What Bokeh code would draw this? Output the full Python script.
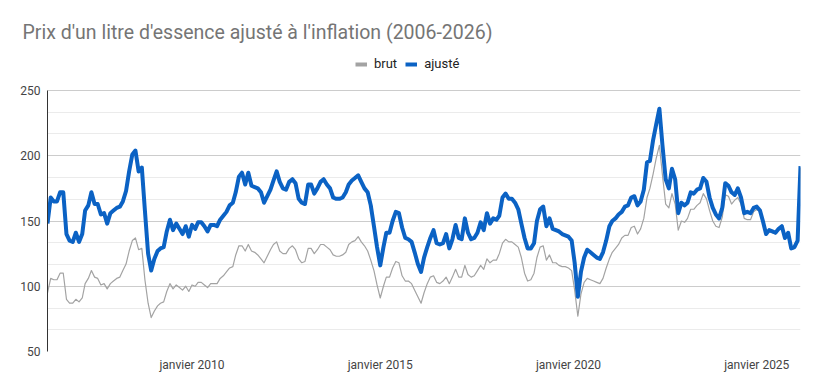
import numpy as np
import pandas as pd
from bokeh.plotting import figure
from bokeh.models import FixedTicker, Legend, LegendItem, Range1d
from bokeh.embed import file_html
from bokeh.resources import INLINE

title_text = "Prix d'un litre d'essence ajusté à l'inflation (2006-2026)"
series_names = ["brut", "ajusté"]
start_month = "2006-03-01"

ajuste = [
    148, 168, 165, 165, 172, 172, 140, 135, 134, 141,
    134, 140, 158, 162, 172, 163, 163, 155, 156, 148,
    156, 158, 160, 161, 165, 173, 188, 201, 204, 188,
    191, 158, 125, 112, 121, 127, 129, 130, 142, 151,
    143, 148, 144, 140, 146, 138, 147, 144, 149, 149,
    146, 142, 147, 147, 146, 151, 154, 157, 162, 164,
    172, 184, 187, 178, 187, 177, 176, 175, 172, 164,
    169, 174, 181, 188, 180, 175, 174, 180, 182, 179,
    167, 164, 163, 178, 178, 171, 175, 180, 182, 178,
    175, 168, 167, 167, 168, 172, 178, 181, 183, 185,
    180, 175, 172, 162, 146, 130, 116, 130, 141, 141,
    150, 157, 156, 145, 137, 136, 134, 126, 117, 111,
    122, 130, 137, 143, 133, 132, 133, 140, 129, 136,
    147, 137, 136, 152, 141, 136, 137, 141, 149, 143,
    156, 148, 152, 151, 154, 168, 171, 167, 167, 164,
    159, 148, 137, 129, 129, 133, 150, 159, 161, 146,
    152, 144, 143, 142, 140, 139, 138, 135, 118, 92,
    111, 122, 128, 126, 124, 122, 121, 126, 135, 146,
    150, 152, 155, 157, 161, 162, 168, 169, 162, 165,
    174, 195, 196, 212, 224, 236, 208, 182, 175, 190,
    182, 156, 164, 162, 164, 172, 171, 174, 175, 183,
    180, 168, 160, 155, 152, 160, 179, 177, 172, 170,
    175, 168, 156, 157, 156, 160, 161, 158, 150, 140,
    143, 142, 141, 144, 146, 137, 141, 129, 130, 135, 192,
]

brut = [
    95, 106, 105, 105, 110, 110, 90, 87, 87, 90,
    88, 91, 102, 106, 112, 107, 106, 101, 102, 98,
    102, 104, 106, 107, 112, 117, 127, 135, 137, 128,
    129, 105, 87, 76, 81, 85, 87, 88, 96, 102,
    98, 101, 99, 97, 100, 96, 101, 100, 103, 103,
    101, 99, 102, 102, 102, 106, 108, 111, 114, 115,
    124, 131, 131, 127, 132, 127, 126, 124, 121, 118,
    123, 128, 132, 134, 127, 125, 125, 129, 131, 128,
    121, 118, 119, 129, 129, 125, 128, 132, 132, 130,
    128, 124, 123, 123, 124, 126, 132, 134, 135, 138,
    134, 131, 127, 120, 112, 101, 91, 100, 107, 107,
    114, 119, 118, 108, 104, 104, 102, 97, 92, 87,
    95, 102, 107, 108, 103, 102, 104, 107, 102, 107,
    113, 107, 107, 116, 109, 107, 108, 112, 116, 113,
    121, 118, 120, 120, 125, 133, 136, 134, 134, 132,
    130, 122, 110, 104, 105, 110, 122, 130, 131, 120,
    124, 118, 118, 116, 115, 115, 114, 112, 97, 77,
    94, 103, 106, 105, 104, 103, 102, 106, 114, 121,
    126, 129, 132, 137, 139, 139, 145, 146, 140, 144,
    152, 168, 175, 186, 198, 208, 185, 163, 160, 171,
    163, 143, 150, 149, 152, 159, 159, 162, 164, 171,
    167, 158, 150, 146, 145, 153, 170, 169, 163, 166,
    168, 163, 152, 151, 151, 157, 159, 157, 149, 139,
    142, 141, 140, 143, 145, 136, 140, 128, 129, 134, 191,
]

tick_dates = ["2010-01-01", "2015-01-01", "2020-01-01", "2025-01-01"]
tick_labels = ["janvier 2010", "janvier 2015", "janvier 2020", "janvier 2025"]
y_ticks = [50, 100, 150, 200, 250]
y_minor_ticks = [66.667, 83.333, 116.667, 133.333, 166.667, 183.333, 216.667, 233.333]
y_axis_min, y_axis_max = 50, 250

dates = pd.date_range(start_month, periods=len(ajuste), freq="MS")
tick_ms = [int(pd.Timestamp(d).value // 10**6) for d in tick_dates]

FONT = "Roboto"

# frame: the top part (above 250) holds the legend
FRAME_TOP = 48
FRAME_H = 351 - FRAME_TOP
PX_PER_UNIT = 261 / (y_axis_max - y_axis_min)
y_top = y_axis_min + FRAME_H / PX_PER_UNIT

p = figure(
    width=810, height=380,
    x_axis_type="datetime",
    x_range=Range1d(dates[0].to_pydatetime(), dates[-1].to_pydatetime()),
    y_range=Range1d(y_axis_min, y_top),
    output_backend="svg", toolbar_location=None,
    min_border_left=47, min_border_right=10,
    min_border_top=FRAME_TOP, min_border_bottom=29,
)
p.outline_line_color = None
p.background_fill_color = "white"

# title
p.title.text = title_text
p.title.align = "left"
p.title.offset = -25
p.title.text_font = FONT
p.title.text_font_size = "19.5px"
p.title.text_font_style = "normal"
p.title.text_color = "#757575"

# grids
p.xgrid.visible = False
p.ygrid.grid_line_color = "#cccccc"
p.ygrid.minor_grid_line_color = "#ebebeb"

# y axis
p.yaxis.ticker = FixedTicker(ticks=y_ticks, minor_ticks=y_minor_ticks)
p.yaxis.bounds = (y_axis_min, y_axis_max)
p.yaxis.axis_line_color = "#333333"
p.yaxis.major_tick_line_color = None
p.yaxis.minor_tick_line_color = None
p.yaxis.major_tick_out = 0
p.yaxis.minor_tick_out = 0
p.yaxis.major_label_standoff = 7
p.yaxis.major_label_text_font = FONT
p.yaxis.major_label_text_font_size = "12px"
p.yaxis.major_label_text_color = "#444444"

# x axis
p.xaxis.ticker = FixedTicker(ticks=tick_ms, minor_ticks=[])
p.xaxis.major_label_overrides = {t: lab for t, lab in zip(tick_ms, tick_labels)}
p.xaxis.axis_line_color = None
p.xaxis.major_tick_line_color = None
p.xaxis.minor_tick_line_color = None
p.xaxis.major_tick_out = 0
p.xaxis.minor_tick_out = 0
p.xaxis.major_label_standoff = 6
p.xaxis.major_label_text_font = FONT
p.xaxis.major_label_text_font_size = "12px"
p.xaxis.major_label_text_color = "#444444"

GRAY = "#a3a3a3"
BLUE = "#0b62c4"

p.line(dates, brut, line_color=GRAY, line_width=1.2, line_join="round")
p.line(dates, ajuste, line_color=BLUE, line_width=4, line_join="round")

# legend-only renderers (thick strokes, no visible data: y is NaN)
leg_gray = p.line(x=dates[:1], y=[np.nan], line_color=GRAY, line_width=4)
leg_blue = p.line(x=dates[:1], y=[np.nan], line_color=BLUE, line_width=4)

legend = Legend(
    items=[LegendItem(label=series_names[0], renderers=[leg_gray]),
           LegendItem(label=series_names[1], renderers=[leg_blue])],
    orientation="horizontal",
    location=(308, 280),
    padding=0, margin=0, spacing=8,
    label_standoff=7, glyph_width=12, glyph_height=14, label_height=14,
    label_text_font=FONT, label_text_font_size="13px", label_text_color="#222222",
    background_fill_alpha=0, border_line_alpha=0,
)
p.add_layout(legend, "center")

open("out.html", "w").write(file_html(p, INLINE))
